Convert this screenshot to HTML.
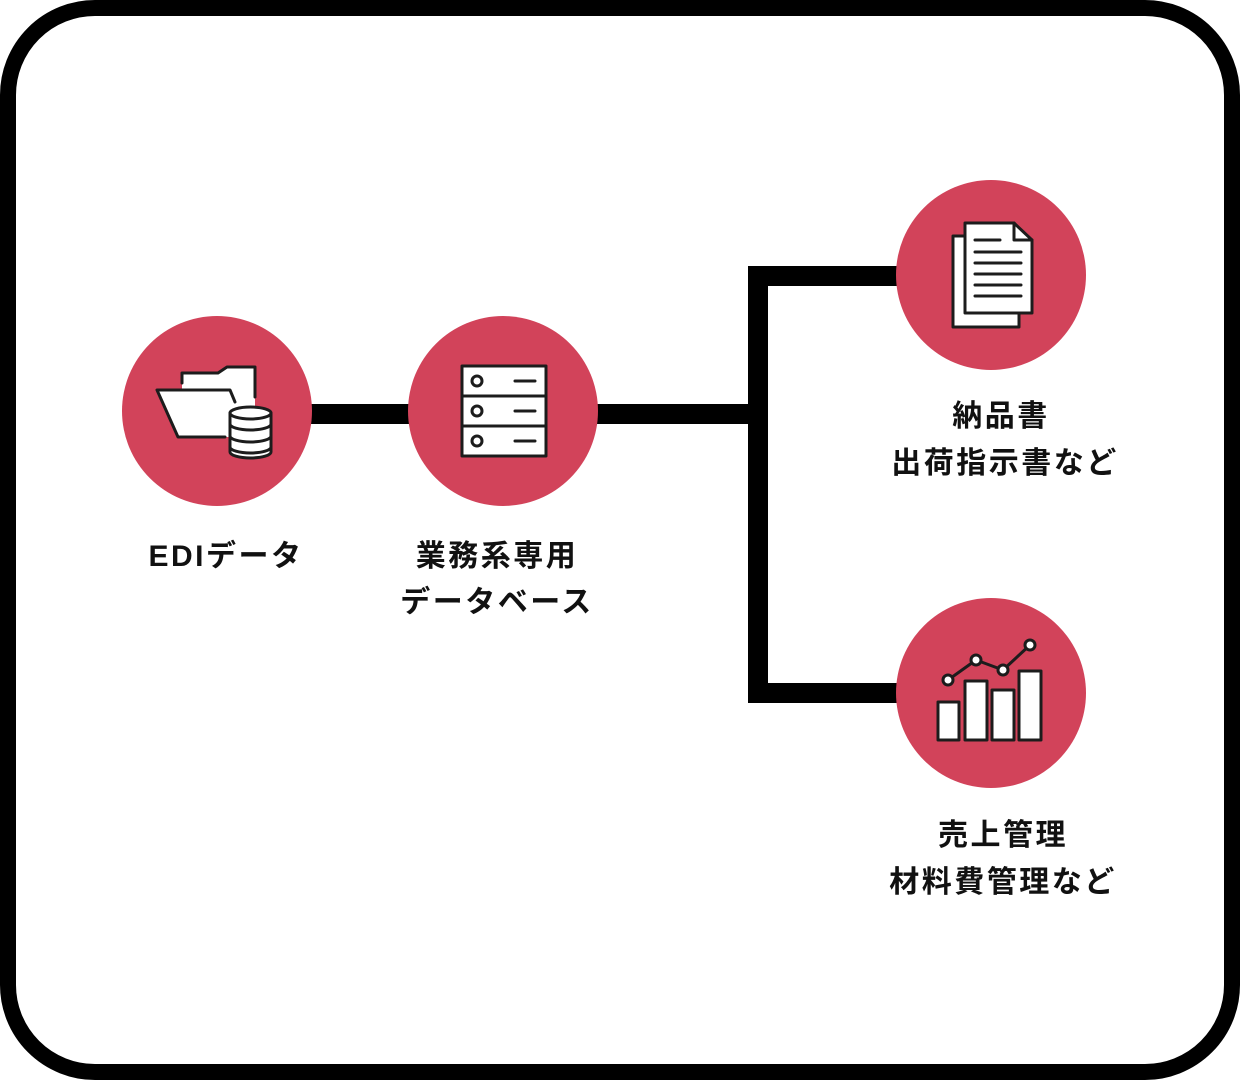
<!DOCTYPE html>
<html><head><meta charset="utf-8"><style>
html,body{margin:0;padding:0;background:#fff;}
svg{display:block;}
text{font-family:"Liberation Sans","Noto Sans CJK JP",sans-serif;font-weight:bold;font-size:30px;letter-spacing:2.5px;fill:#111;}
</style></head><body>
<svg width="1240" height="1080" viewBox="0 0 1240 1080" xmlns="http://www.w3.org/2000/svg">
<rect x="8" y="8" width="1224" height="1064" rx="87" ry="87" fill="#fff" stroke="#000" stroke-width="16"/>
<!-- connectors -->
<rect x="300" y="404" width="120" height="20" fill="#000"/>
<rect x="590" y="404" width="178" height="20" fill="#000"/>
<rect x="748" y="266" width="20" height="437" fill="#000"/>
<rect x="748" y="266" width="160" height="20" fill="#000"/>
<rect x="748" y="683" width="160" height="20" fill="#000"/>
<!-- circles -->
<circle cx="217" cy="411" r="95" fill="#d2435a"/>
<circle cx="503" cy="411" r="95" fill="#d2435a"/>
<circle cx="991" cy="275" r="95" fill="#d2435a"/>
<circle cx="991" cy="693" r="95" fill="#d2435a"/>

<g fill="#fff" stroke="#1c1c1c" stroke-width="3" stroke-linejoin="round" stroke-linecap="round">
<!-- folder + db -->
<path d="M182,437 V373 H218 L227,367 H255 V437 Z" stroke="none"/>
<path d="M182,383 V373 H218 L227,367 H255 V397" fill="none"/>
<path d="M157,390 H230 L236,402 V437 H178 Z" stroke="none"/>
<path d="M225,437 H178 L157,390 H230 L235,402" fill="none"/>
<path d="M230,413 V452 A20.5,6 0 0 0 271,452 V413 Z"/>
<ellipse cx="250.5" cy="413" rx="20.5" ry="6"/>
<path d="M230,424 A20.5,6 0 0 0 271,424 M230,436 A20.5,6 0 0 0 271,436 M230,447 A20.5,6 0 0 0 271,447" fill="none"/>

<!-- server -->
<rect x="462" y="366" width="84" height="90"/>
<path d="M462,396 H546 M462,426 H546" fill="none"/>
<circle cx="477" cy="381" r="5"/>
<circle cx="477" cy="411" r="5"/>
<circle cx="477" cy="441" r="5"/>
<path d="M515,381 H535 M515,411 H535 M515,441 H535" fill="none"/>

<!-- document -->
<path d="M965,236 H953 V327 H1019 V313" />
<path d="M965,223 H1014 L1032,240 V313 H965 Z"/>
<path d="M1014,223 V240 H1032" fill="none"/>
<path d="M975,240 H1000 M975,252 H1021 M975,263 H1021 M975,274 H1021 M975,285 H1021 M975,296 H1021" fill="none"/>

<!-- chart -->
<rect x="938" y="702" width="21" height="38"/>
<rect x="965" y="681" width="22" height="59"/>
<rect x="992" y="690" width="22" height="50"/>
<rect x="1019" y="671" width="22" height="69"/>
<path d="M948,680 L976,660 L1003,670 L1030,645" fill="none"/>
<circle cx="948" cy="680" r="5"/>
<circle cx="976" cy="660" r="5"/>
<circle cx="1003" cy="670" r="5"/>
<circle cx="1030" cy="645" r="5"/>
</g>

<!-- labels -->
<text x="226" y="566" text-anchor="middle">EDIデータ</text>
<text x="497" y="566" text-anchor="middle">業務系専用</text>
<text x="497" y="612" text-anchor="middle">データベース</text>
<text x="1001" y="426" text-anchor="middle">納品書</text>
<text x="1005" y="473" text-anchor="middle">出荷指示書など</text>
<text x="1003" y="845" text-anchor="middle">売上管理</text>
<text x="1003" y="892" text-anchor="middle">材料費管理など</text>
</svg>
</body></html>
